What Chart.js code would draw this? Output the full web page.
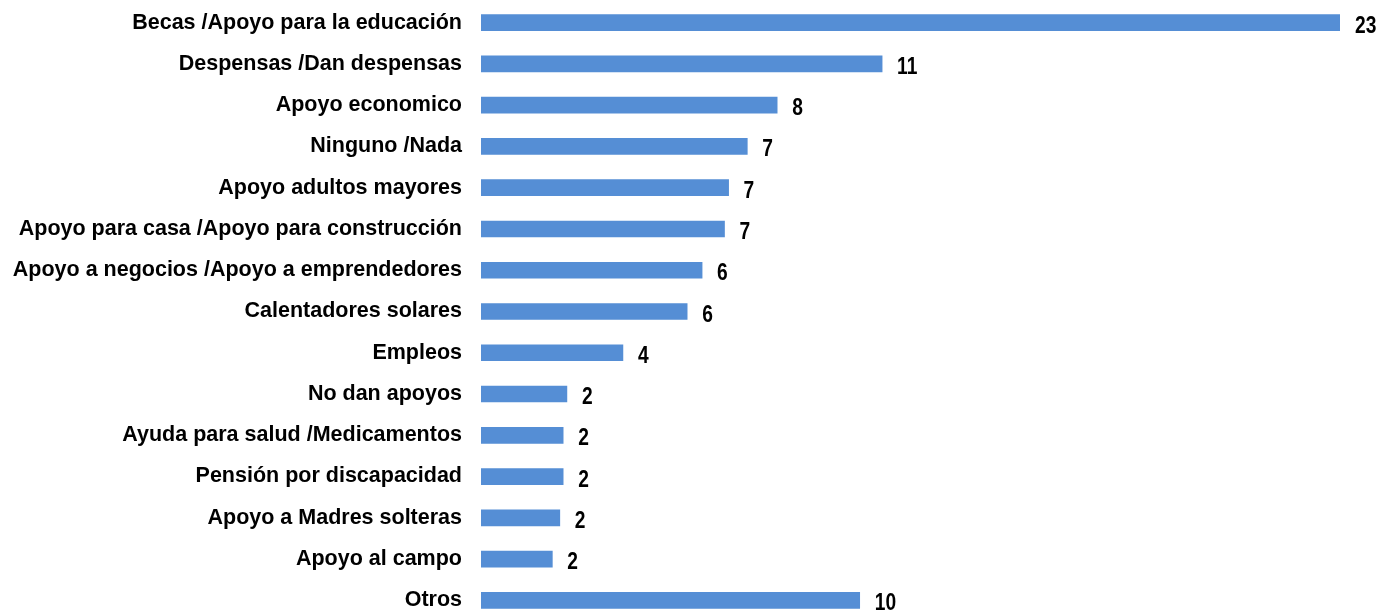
<!DOCTYPE html>
<html>
<head>
<meta charset="utf-8">
<script src="https://cdn.jsdelivr.net/npm/chart.js@4"></script>
<style>
  html, body { margin: 0; padding: 0; background: #fff; overflow: hidden; }
</style>
</head>
<body>
<canvas id="myChart_apoyos" width="1380" height="621"></canvas>
<script>
const categories = [
    'Becas /Apoyo para la educación',
    'Despensas /Dan despensas',
    'Apoyo economico',
    'Ninguno /Nada',
    'Apoyo adultos mayores',
    'Apoyo para casa /Apoyo para construcción',
    'Apoyo a negocios /Apoyo a emprendedores',
    'Calentadores solares',
    'Empleos',
    'No dan apoyos',
    'Ayuda para salud /Medicamentos',
    'Pensión por discapacidad',
    'Apoyo a Madres solteras',
    'Apoyo al campo',
    'Otros'
]
const values = [23, 10.74, 7.93, 7.13, 6.63, 6.52, 5.92, 5.52, 3.80, 2.30, 2.20, 2.20, 2.11, 1.91, 10.14]
const x_max = 23

// labels at the end of each bar, narrow bold digits
const bar_values = {
    id: 'bar_values',
    afterDatasetsDraw(chart) {
        const ctx = chart.ctx
        const meta = chart.getDatasetMeta(0)
        ctx.save()
        ctx.fillStyle = '#000'
        ctx.font = 'bold 24px "Liberation Sans", Arial, sans-serif'
        ctx.textAlign = 'left'
        ctx.textBaseline = 'alphabetic'
        meta.data.forEach((bar, i) => {
            ctx.save()
            ctx.translate(bar.x + 15, bar.y + 10)
            ctx.scale(0.8, 1)
            ctx.fillText(String(Math.round(values[i])), 0, 0)
            ctx.restore()
        })
        ctx.restore()
    }
}

const chart_apoyos = document.getElementById('myChart_apoyos')
new Chart(chart_apoyos, {
    type: 'bar',
    data: {
        labels: categories,
        datasets: [{
            data: values,
            backgroundColor: '#558ED5',
            borderWidth: 0,
            barThickness: 16
        }]
    },
    options: {
        indexAxis: 'y',
        responsive: false,
        animation: false,
        layout: {
            padding: { top: 2, right: 40, bottom: 0, left: 0 }
        },
        scales: {
            x: {
                display: false,
                min: 0,
                max: x_max
            },
            y: {
                afterFit(scale) {
                    scale.width = 481
                    scale.paddingTop = 0
                    scale.paddingBottom = 0
                },
                grid: { display: false, drawTicks: false },
                border: { display: false },
                ticks: {
                    padding: 19,
                    color: '#000',
                    font: { family: '"Liberation Sans", Arial, sans-serif', size: 21.5, weight: 'bold' }
                }
            }
        },
        plugins: {
            legend: { display: false },
            tooltip: { enabled: false }
        }
    },
    plugins: [bar_values]
})
</script>
</body>
</html>
